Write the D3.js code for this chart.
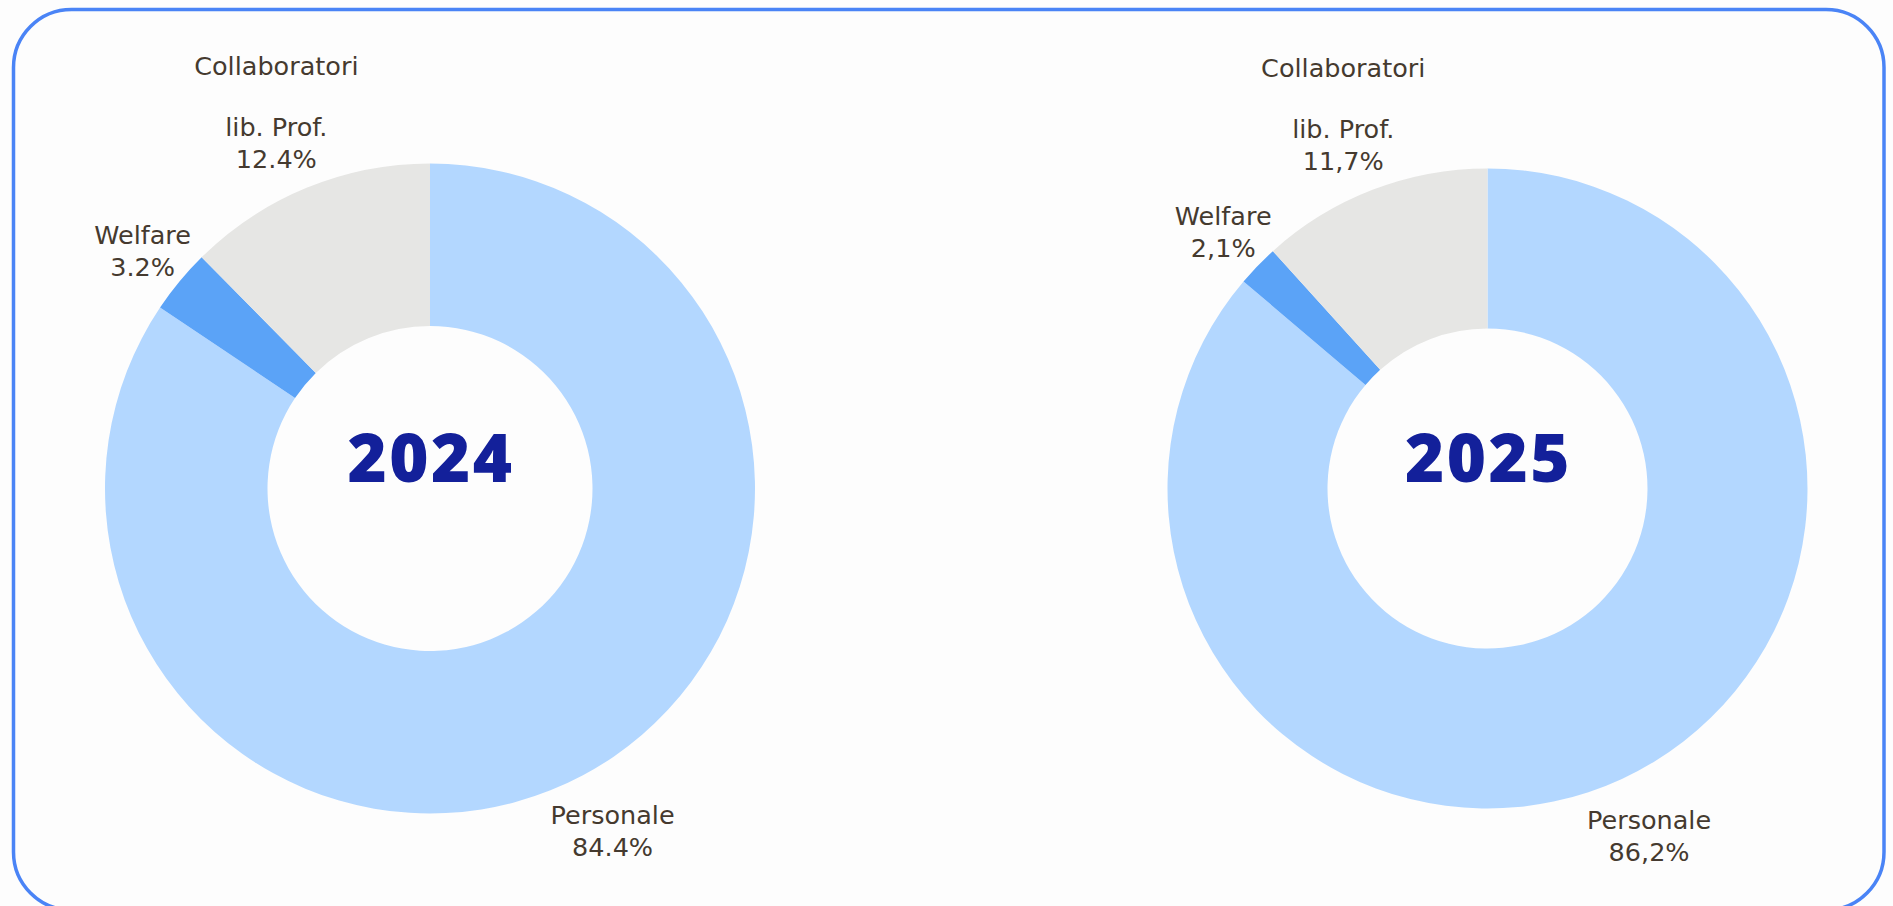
<!DOCTYPE html>
<html lang="it">
<head>
    <meta charset="UTF-8">
    <script src="https://cdn.jsdelivr.net/npm/d3@7"></script>
    <title>Costi del personale 2024 - 2025</title>
    <style>
        html, body { margin: 0; padding: 0; background: #fdfdfd; }
        svg { display: block; }
    </style>
</head>
<body>
    <svg id="chart" width="1893" height="906"></svg>

    <script>
        // dati
        const years = ["2024", "2025"];
        const categories = ["Personale", "Welfare", "lib. Prof."];
        const categoryPrefix = ["", "", "Collaboratori"];
        const values2024 = [84.4, 3.2, 12.4];
        const values2025 = [86.2, 2.1, 11.7];
        const valueLabels2024 = ["84.4%", "3.2%", "12.4%"];
        const valueLabels2025 = ["86,2%", "2,1%", "11,7%"];
        const colors = ["#b3d7ff", "#5ba3f7", "#e6e6e4"];

        const series = [
            { year: years[0], values: values2024, labels: valueLabels2024 },
            { year: years[1], values: values2025, labels: valueLabels2025 }
        ];

        // layout
        const cy = 488.5;
        const outerR = [325, 320];
        const lineH = 32;
        const labelNudgeX = [7, 0, -12];

        const svg = d3.select('#chart');

        // cornice arrotondata
        svg.append('rect')
            .attr('x', 13.5).attr('y', 9.5)
            .attr('width', 1870.5).attr('height', 900.5)
            .attr('rx', 58).attr('ry', 58)
            .attr('fill', '#fdfdfd')
            .attr('stroke', '#4a84f6')
            .attr('stroke-width', 3.5);

        const x = d3.scalePoint().domain(years).range([430, 1487.5]);
        const color = d3.scaleOrdinal().domain(categories).range(colors);

        const pie = d3.pie().sort(null).value(d => d);

        series.forEach((s, k) => {
            const R = outerR[k];
            const arc = d3.arc().innerRadius(R / 2).outerRadius(R);
            const g = svg.append('g')
                .attr('transform', 'translate(' + x(s.year) + ',' + cy + ')');

            const arcs = pie(s.values);

            g.selectAll('path')
                .data(arcs)
                .enter().append('path')
                .attr('d', arc)
                .attr('fill', (d, i) => color(categories[i]));

            // etichette esterne
            const labelR = R + 48;
            const labels = g.selectAll('text.lbl')
                .data(arcs)
                .enter().append('text')
                .attr('class', 'lbl')
                .attr('text-anchor', 'middle')
                .attr('font-family', 'DejaVu Sans, sans-serif')
                .attr('font-size', 25.5)
                .attr('fill', '#453a2f')
                .attr('transform', (d, i) => {
                    const a = (d.startAngle + d.endAngle) / 2;
                    const lx = labelR * Math.sin(a) + labelNudgeX[i];
                    const ly = -labelR * Math.cos(a) + Math.max(0, -Math.cos(a)) * 15;
                    return 'translate(' + lx + ',' + ly + ')';
                });

            labels.each(function(d, i) {
                const t = d3.select(this);
                const lines = [];
                if (categoryPrefix[i]) lines.push(categoryPrefix[i], '');
                lines.push(categories[i], s.labels[i]);
                const n = lines.length;
                lines.forEach((line, j) => {
                    if (!line) return;
                    t.append('tspan')
                        .attr('x', 0)
                        .attr('y', 25 - (n - 1 - j) * lineH - (j < n - 2 ? -3 : 0))
                        .text(line);
                });
            });

            // anno al centro
            g.append('text')
                .attr('text-anchor', 'middle')
                .attr('font-family', 'Noto Sans, sans-serif')
                .attr('font-weight', 900)
                .attr('font-size', 67)
                .attr('letter-spacing', 2.5)
                .attr('fill', '#13209a')
                .attr('x', 1)
                .attr('y', 482 - cy)
                .text(s.year);
        });
    </script>
</body>
</html>
